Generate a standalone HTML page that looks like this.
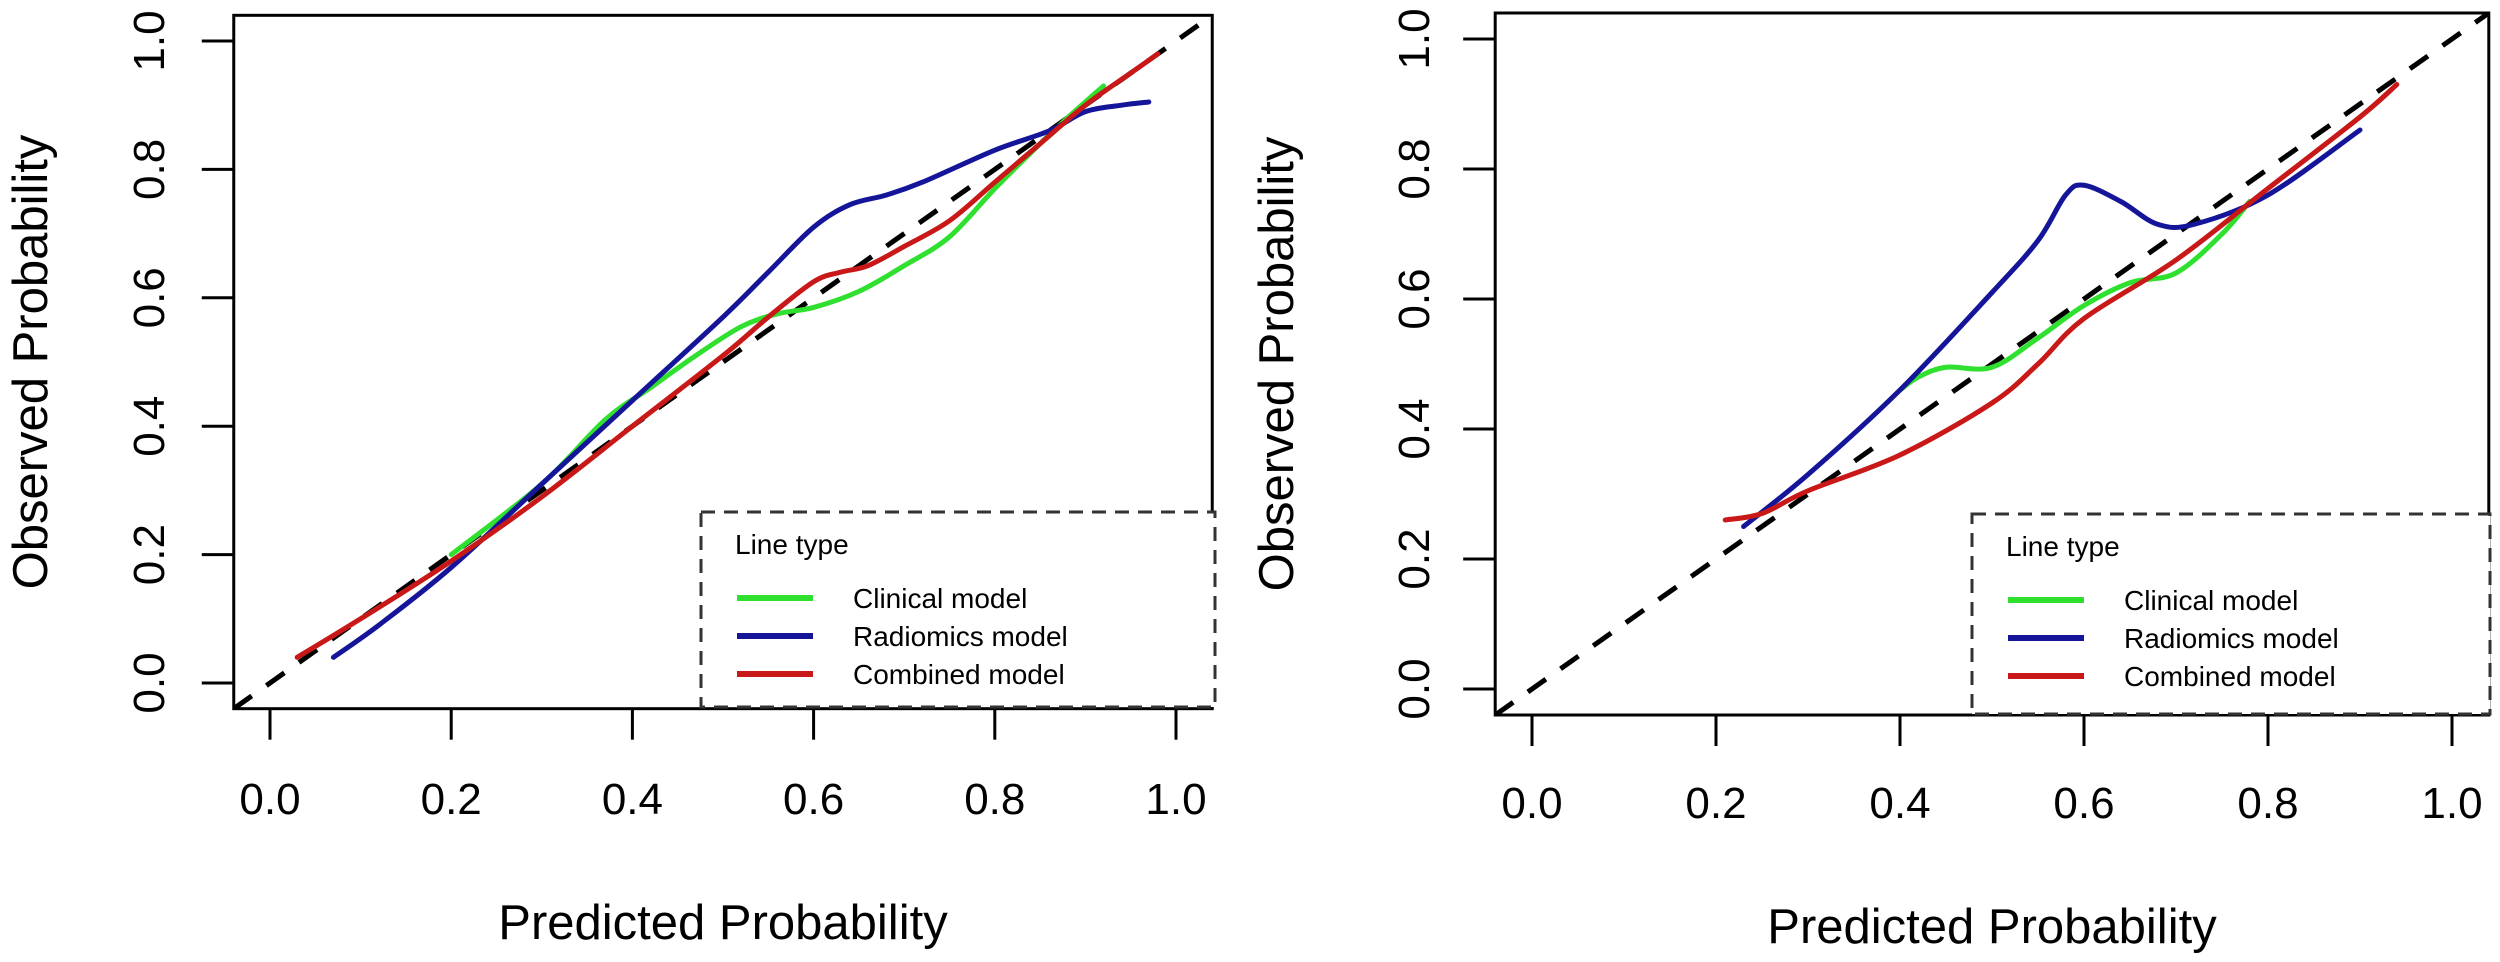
<!DOCTYPE html>
<html><head><meta charset="utf-8"><style>
html,body{margin:0;padding:0;background:#fff;}
svg{display:block;font-family:"Liberation Sans",sans-serif;}
</style></head><body>
<svg id="chart" width="2500" height="962" viewBox="0 0 2500 962" xmlns="http://www.w3.org/2000/svg"></svg>
<script>
const tickValues = [0, 0.2, 0.4, 0.6, 0.8, 1.0];
const tickLabels = ["0.0", "0.2", "0.4", "0.6", "0.8", "1.0"];
const seriesNames = ["Clinical model", "Radiomics model", "Combined model"];
const seriesColors = ["#2fe02f", "#15159a", "#c81818"];

const leftClinicalX = [0.20,0.30,0.37,0.42,0.47,0.52,0.56,0.60,0.65,0.70,0.75,0.80,0.85,0.88,0.92];
const leftClinicalY = [0.20,0.31,0.41,0.46,0.51,0.555,0.575,0.585,0.61,0.65,0.695,0.77,0.84,0.88,0.93];
const leftRadiomicsX = [0.07,0.12,0.20,0.30,0.40,0.50,0.55,0.60,0.64,0.68,0.72,0.80,0.86,0.90,0.94,0.97];
const leftRadiomicsY = [0.04,0.09,0.18,0.31,0.44,0.57,0.64,0.71,0.745,0.76,0.78,0.83,0.86,0.89,0.90,0.905];
const leftCombinedX = [0.03,0.10,0.20,0.30,0.40,0.50,0.55,0.60,0.63,0.66,0.70,0.75,0.80,0.85,0.90,0.95,0.98];
const leftCombinedY = [0.04,0.10,0.19,0.29,0.40,0.51,0.57,0.625,0.64,0.65,0.68,0.72,0.78,0.84,0.90,0.95,0.98];

const rightClinicalX = [0.40,0.42,0.45,0.50,0.55,0.60,0.65,0.70,0.75,0.78];
const rightClinicalY = [0.46,0.48,0.495,0.495,0.54,0.59,0.625,0.64,0.70,0.75];
const rightRadiomicsX = [0.23,0.30,0.40,0.50,0.55,0.58,0.60,0.64,0.68,0.72,0.80,0.90];
const rightRadiomicsY = [0.25,0.33,0.46,0.61,0.69,0.76,0.775,0.75,0.715,0.715,0.76,0.86];
const rightCombinedX = [0.21,0.25,0.30,0.40,0.50,0.55,0.60,0.70,0.80,0.90,0.94];
const rightCombinedY = [0.26,0.27,0.305,0.36,0.44,0.50,0.57,0.66,0.77,0.88,0.93];

const NS = "http://www.w3.org/2000/svg";
const svg = document.getElementById("chart");
function mk(tag, attrs, parent) {
  const e = document.createElementNS(NS, tag);
  for (const k in attrs) e.setAttribute(k, attrs[k]);
  (parent || svg).appendChild(e);
  return e;
}
function smoothPath(pts) {
  let d = "M" + pts[0][0] + "," + pts[0][1];
  for (let i = 0; i < pts.length - 1; i++) {
    const p0 = pts[Math.max(0, i - 1)], p1 = pts[i], p2 = pts[i + 1], p3 = pts[Math.min(pts.length - 1, i + 2)];
    const c1x = p1[0] + (p2[0] - p0[0]) / 6, c1y = p1[1] + (p2[1] - p0[1]) / 6;
    const c2x = p2[0] - (p3[0] - p1[0]) / 6, c2y = p2[1] - (p3[1] - p1[1]) / 6;
    d += " C" + c1x + "," + c1y + " " + c2x + "," + c2y + " " + p2[0] + "," + p2[1];
  }
  return d;
}

function panel(cfg) {
  const g = mk("g", {});
  
  
  const sx = v => cfg.x0 + v * cfg.xs;
  const sy = v => cfg.y0 - v * cfg.ys;
  const L = sx(-0.04), R = sx(1.04), T = sy(1.04), B = sy(-0.04);
  const clipId = cfg.name + "-clip";
  const cp = mk("clipPath", {id: clipId}, g);
  mk("rect", {x: L, y: T, width: R - L, height: B - T}, cp);
  const diag = mk("line", {x1: sx(-0.04), y1: sy(-0.04), x2: sx(1.04), y2: sy(1.04), stroke: "#000", "stroke-width": 5, "stroke-dasharray": "22,18", "clip-path": "url(#" + clipId + ")"}, g);
  
  
  const keys = ["clinical", "radiomics", "combined"];
  cfg.series.forEach((s, i) => {
    const pts = s.x.map((v, j) => [sx(v), sy(s.y[j])]);
    const p = mk("path", {d: smoothPath(pts), fill: "none", stroke: seriesColors[i], "stroke-width": 5, "stroke-linecap": "round", "stroke-linejoin": "round"}, g);
    
    
  });
  const fr = mk("rect", {x: L, y: T, width: R - L, height: B - T, fill: "none", stroke: "#000", "stroke-width": 3}, g);
  
  
  tickValues.forEach((v, i) => {
    mk("line", {x1: sx(v), y1: B, x2: sx(v), y2: B + 31, stroke: "#000", "stroke-width": 3}, g);
    const tx = mk("text", {x: sx(v), y: cfg.xLabelY, "font-size": 44, "text-anchor": "middle"}, g);
    tx.textContent = tickLabels[i];
    
    
    mk("line", {x1: L, y1: sy(v), x2: L - 32, y2: sy(v), stroke: "#000", "stroke-width": 3}, g);
    const ty = mk("text", {x: cfg.yLabelX, y: sy(v), "font-size": 44, "text-anchor": "middle", transform: "rotate(-90 " + cfg.yLabelX + " " + sy(v) + ")"}, g);
    ty.textContent = tickLabels[i];
    
    
  });
  const xt = mk("text", {x: sx(0.5), y: cfg.xTitleY, "font-size": 49, "text-anchor": "middle"}, g);
  xt.textContent = "Predicted Probability";
  
  
  const yt = mk("text", {x: cfg.yTitleX, y: sy(0.5), "font-size": 49, "text-anchor": "middle", transform: "rotate(-90 " + cfg.yTitleX + " " + sy(0.5) + ")"}, g);
  yt.textContent = "Observed Probability";
  
  
  const lg = mk("g", {}, g);
  
  
  const lb = cfg.legend;
  mk("rect", {x: lb.x, y: lb.y, width: lb.w, height: lb.h, fill: "#fff", stroke: "#333", "stroke-width": 3, "stroke-dasharray": "14,9"}, lg);
  const lt = mk("text", {x: lb.x + 34, y: lb.y + 42, "font-size": 28}, lg);
  lt.textContent = "Line type";
  
  
  seriesNames.forEach((n, i) => {
    const yy = lb.y + 86 + i * 38;
    const e = mk("g", {}, lg);
    
    
    mk("line", {x1: lb.x + 36, y1: yy, x2: lb.x + 112, y2: yy, stroke: seriesColors[i], "stroke-width": 6}, e);
    const t = mk("text", {x: lb.x + 152, y: yy + 10, "font-size": 28}, e);
    t.textContent = n;
  });
}

panel({name: "left-calibration-plot", x0: 270, xs: 906, y0: 683, ys: 642,
  xLabelY: 814, yLabelX: 164, xTitleY: 939, yTitleX: 47,
  legend: {x: 701, y: 512, w: 514, h: 195},
  series: [{x: leftClinicalX, y: leftClinicalY}, {x: leftRadiomicsX, y: leftRadiomicsY}, {x: leftCombinedX, y: leftCombinedY}]});
panel({name: "right-calibration-plot", x0: 1532, xs: 920, y0: 689, ys: 650,
  xLabelY: 818, yLabelX: 1429, xTitleY: 943, yTitleX: 1293,
  legend: {x: 1972, y: 514, w: 518, h: 200},
  series: [{x: rightClinicalX, y: rightClinicalY}, {x: rightRadiomicsX, y: rightRadiomicsY}, {x: rightCombinedX, y: rightCombinedY}]});
</script>
</body></html>
